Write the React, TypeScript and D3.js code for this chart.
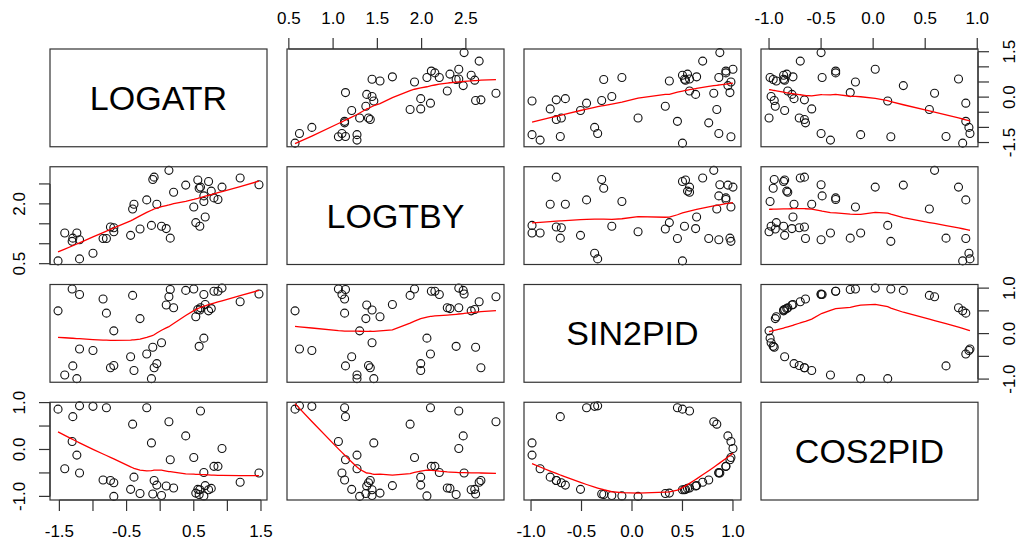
import { useEffect, useRef } from 'react';
import * as d3 from 'd3';

// variable names, in the order of the matrix
const varNames = ['LOGATR', 'LOGTBY', 'SIN2PID', 'COS2PID'];

const logatr = [
  -0.13, -1.24, -1.42, -0.39, -0.09, -0.05, -0.74, -0.69, -1.30, -0.44, -0.20,
  -1.00, -1.20, -0.11, 0.02, 0.58, 0.65, -0.69, -0.30, 0.53, -0.80, -1.52,
  0.72, 0.56, 0.76, 0.59, 0.60, 0.20, 0.67, 0.09, 1.19, 0.13, -0.41,
  -0.85, -1.20, 1.47, 0.65, 0.80, 0.86, 0.92, 0.50, 0.38, 0.15, -1.31,
];
const logtby = [
  1.46, 1.27, 1.27, 1.99, 2.67, 1.99, 1.42, 1.40, 1.14, 1.21, 2.10,
  0.76, 0.62, 2.61, 1.44, 2.39, 2.06, 1.30, 1.37, 1.53, 1.13, 0.57,
  2.56, 2.60, 2.32, 1.44, 2.42, 2.29, 1.67, 1.38, 2.65, 2.84, 1.87,
  1.13, 1.10, 2.48, 2.20, 2.15, 2.11, 2.42, 1.92, 2.47, 1.14, 1.06,
];
const sin2pid = [
  -0.99, -0.99, -0.91, -0.81, -0.75, -0.66, -0.75, -0.70, -0.71, -0.51, -0.45,
  -0.37, -0.34, -0.30, -0.20, -0.28, -0.10, 0.06, 0.33, 0.37, 0.45, 0.50,
  0.50, 0.53, 0.55, 0.52, 0.57, 0.57, 0.64, 0.63, 0.70, 0.81, 0.84,
  0.76, 0.86, 0.87, 0.86, 0.93, 0.93, 1.00, 0.98, 0.95, 0.97, 0.98,
];
const cos2pid = [
  0.14, -0.12, -0.41, -0.59, -0.66, -0.76, -0.66, -0.71, 0.70, -0.85, 0.89,
  0.92, 0.93, -0.95, -0.98, -0.96, -0.99, -1.00, -0.94, -0.93, 0.89, 0.86,
  -0.86, -0.85, -0.83, -0.86, 0.82, -0.82, -0.77, -0.78, -0.70, 0.59, 0.54,
  -0.65, -0.50, -0.50, -0.49, -0.36, -0.36, 0.02, -0.17, 0.29, -0.22, 0.17,
];

// tick positions per variable
const tickValues = [
  [-1.5, -1, -0.5, 0, 0.5, 1, 1.5],
  [0.5, 1, 1.5, 2, 2.5],
  [-1, -0.5, 0, 0.5, 1],
  [-1, -0.5, 0, 0.5, 1],
];
// labels that R kept after dropping overlaps
const xTickLabels = [
  ['-1.5', '-0.5', '0.5', '1.5'],
  ['0.5', '1.0', '1.5', '2.0', '2.5'],
  ['-1.0', '-0.5', '0.0', '0.5', '1.0'],
  ['-1.0', '-0.5', '0.0', '0.5', '1.0'],
];
const yTickLabels = [
  ['-1.5', '0.0', '1.5'],
  ['0.5', '2.0'],
  ['-1.0', '0.0', '1.0'],
  ['-1.0', '0.0', '1.0'],
];

const WIDTH = 1020;
const HEIGHT = 545;
const left = 50;
const top = 49;
const panelW = 217;
const panelH = 97.75;
const gap = 20;
const font = '"Liberation Sans", Arial, Helvetica, sans-serif';

// port of R's clowess (stats::lowess)
function lowess(xIn: number[], yIn: number[], f = 2 / 3, nsteps = 3): [number, number][] {
  const n = xIn.length;
  const o = d3.range(n).sort((a, b) => xIn[a] - xIn[b]);
  const x = o.map(i => xIn[i]);
  const y = o.map(i => yIn[i]);
  const range = x[n - 1] - x[0];
  const delta = 0.01 * range;
  const ns = Math.max(2, Math.min(n, Math.floor(f * n + 1e-7)));
  const ys = new Array(n).fill(0);
  let rw = new Array(n).fill(1);
  const res = new Array(n).fill(0);

  const lowest = (xs: number, nleft: number, nright: number, userw: boolean): number | null => {
    const h = Math.max(xs - x[nleft], x[nright] - xs);
    const h9 = 0.999 * h;
    const h1 = 0.001 * h;
    const w = new Array(n).fill(0);
    let a = 0;
    let j = nleft;
    while (j < n) {
      const r = Math.abs(x[j] - xs);
      if (r <= h9) {
        w[j] = r <= h1 ? 1 : Math.pow(1 - Math.pow(r / h, 3), 3);
        if (userw) w[j] *= rw[j];
        a += w[j];
      } else if (x[j] > xs) break;
      j++;
    }
    const nrt = j - 1;
    if (a <= 0) return null;
    for (let k = nleft; k <= nrt; k++) w[k] /= a;
    if (h > 0) {
      let m = 0;
      for (let k = nleft; k <= nrt; k++) m += w[k] * x[k];
      let b = xs - m;
      let c = 0;
      for (let k = nleft; k <= nrt; k++) c += w[k] * (x[k] - m) * (x[k] - m);
      if (Math.sqrt(c) > 0.001 * range) {
        b /= c;
        for (let k = nleft; k <= nrt; k++) w[k] *= b * (x[k] - m) + 1;
      }
    }
    let out = 0;
    for (let k = nleft; k <= nrt; k++) out += w[k] * y[k];
    return out;
  };

  for (let iter = 1; iter <= nsteps + 1; iter++) {
    let nleft = 0;
    let nright = ns - 1;
    let last = -1;
    let i = 0;
    for (;;) {
      if (nright < n - 1) {
        const d1 = x[i] - x[nleft];
        const d2 = x[nright + 1] - x[i];
        if (d1 > d2) {
          nleft++;
          nright++;
          continue;
        }
      }
      const v = lowest(x[i], nleft, nright, iter > 1);
      ys[i] = v === null ? y[i] : v;
      if (last < i - 1) {
        const denom = x[i] - x[last];
        for (let j = last + 1; j < i; j++) {
          const alpha = (x[j] - x[last]) / denom;
          ys[j] = alpha * ys[i] + (1 - alpha) * ys[last];
        }
      }
      last = i;
      const cut = x[last] + delta;
      for (i = last + 1; i < n; i++) {
        if (x[i] > cut) break;
        if (x[i] === x[last]) {
          ys[i] = ys[last];
          last = i;
        }
      }
      i = Math.max(last + 1, i - 1);
      if (last >= n - 1) break;
    }
    for (let k = 0; k < n; k++) res[k] = y[k] - ys[k];
    const sc = d3.sum(res, r => Math.abs(r)) / n;
    if (iter > nsteps) break;
    const sorted = res.map(r => Math.abs(r)).sort((a, b) => a - b);
    const m1 = Math.floor(n / 2);
    const cmad = n % 2 === 0 ? 3 * (sorted[m1] + sorted[n - m1 - 1]) : 6 * sorted[m1];
    if (cmad < 1e-7 * sc) break;
    const c9 = 0.999 * cmad;
    const c1 = 0.001 * cmad;
    rw = res.map(r0 => {
      const r = Math.abs(r0);
      if (r <= c1) return 1;
      if (r <= c9) return Math.pow(1 - Math.pow(r / cmad, 2), 2);
      return 0;
    });
  }
  return x.map((xv, k) => [xv, ys[k]] as [number, number]);
}

export default function App() {
  const svgRef = useRef<SVGSVGElement>(null);

  useEffect(() => {
    const svg = d3.select(svgRef.current);
    svg.selectAll('*').remove();

    const columns = [logatr, logtby, sin2pid, cos2pid];
    const nVar = columns.length;

    // R pads each range by 4% on both sides
    const domains = columns.map(col => {
      const [lo, hi] = d3.extent(col) as [number, number];
      const d = (hi - lo) * 0.04;
      return [lo - d, hi + d] as [number, number];
    });

    const xPos = (j: number) => left + j * (panelW + gap);
    const yPos = (i: number) => top + i * (panelH + gap);
    const xScale = (j: number) => d3.scaleLinear().domain(domains[j]).range([xPos(j), xPos(j) + panelW]);
    const yScale = (i: number) => d3.scaleLinear().domain(domains[i]).range([yPos(i) + panelH, yPos(i)]);

    for (let i = 0; i < nVar; i++) {
      for (let j = 0; j < nVar; j++) {
        const g = svg.append('g');
        if (i === j) {
          g.append('text')
            .attr('x', xPos(j) + panelW / 2)
            .attr('y', yPos(i) + panelH / 2)
            .attr('text-anchor', 'middle')
            .attr('dominant-baseline', 'central')
            .attr('font-family', font)
            .attr('font-size', 34)
            .attr('fill', '#000')
            .text(varNames[i]);
        } else {
          const x = xScale(j);
          const y = yScale(i);
          const xs = columns[j];
          const ysv = columns[i];

          g.selectAll('circle')
            .data(xs)
            .enter().append('circle')
            .attr('cx', d => x(d))
            .attr('cy', (d, k) => y(ysv[k]))
            .attr('r', 4)
            .attr('fill', 'none')
            .attr('stroke', '#111')
            .attr('stroke-width', 1.1);

          const smooth = lowess(xs, ysv);
          const line = d3.line<[number, number]>()
            .x(d => x(d[0]))
            .y(d => y(d[1]));
          g.append('path')
            .attr('d', line(smooth))
            .attr('fill', 'none')
            .attr('stroke', 'red')
            .attr('stroke-width', 1.3);
        }

        g.append('rect')
          .attr('x', xPos(j))
          .attr('y', yPos(i))
          .attr('width', panelW)
          .attr('height', panelH)
          .attr('fill', 'none')
          .attr('stroke', '#333')
          .attr('stroke-width', 1.2);
      }
    }

    const axes = svg.append('g')
      .attr('stroke', '#333')
      .attr('stroke-width', 1.2);
    const labels = svg.append('g')
      .attr('font-family', font)
      .attr('font-size', 17)
      .attr('fill', '#000');
    const tickLen = 11;
    const labelOff = 31;

    // horizontal axes: bottom on columns 1 and 3, top on columns 2 and 4
    for (let j = 0; j < nVar; j++) {
      const x = xScale(j);
      const ticks = tickValues[j];
      const onBottom = j % 2 === 0;
      const edge = onBottom ? yPos(nVar - 1) + panelH : yPos(0);
      const dir = onBottom ? 1 : -1;
      axes.append('line')
        .attr('x1', x(ticks[0])).attr('x2', x(ticks[ticks.length - 1]))
        .attr('y1', edge).attr('y2', edge);
      ticks.forEach(t => {
        axes.append('line')
          .attr('x1', x(t)).attr('x2', x(t))
          .attr('y1', edge).attr('y2', edge + dir * tickLen);
      });
      xTickLabels[j].forEach(lab => {
        labels.append('text')
          .attr('x', x(parseFloat(lab)))
          .attr('y', edge + dir * labelOff)
          .attr('text-anchor', 'middle')
          .attr('dominant-baseline', 'central')
          .text(lab);
      });
    }

    // vertical axes: right on rows 1 and 3, left on rows 2 and 4
    for (let i = 0; i < nVar; i++) {
      const y = yScale(i);
      const ticks = tickValues[i];
      const onRight = i % 2 === 0;
      const edge = onRight ? xPos(nVar - 1) + panelW : xPos(0);
      const dir = onRight ? 1 : -1;
      axes.append('line')
        .attr('y1', y(ticks[0])).attr('y2', y(ticks[ticks.length - 1]))
        .attr('x1', edge).attr('x2', edge);
      ticks.forEach(t => {
        axes.append('line')
          .attr('y1', y(t)).attr('y2', y(t))
          .attr('x1', edge).attr('x2', edge + dir * tickLen);
      });
      yTickLabels[i].forEach(lab => {
        const lx = edge + dir * labelOff;
        const ly = y(parseFloat(lab));
        labels.append('text')
          .attr('transform', `translate(${lx},${ly}) rotate(-90)`)
          .attr('text-anchor', 'middle')
          .attr('dominant-baseline', 'central')
          .text(lab);
      });
    }
  }, []);

  return (
    <svg
      ref={svgRef}
      width={WIDTH}
      height={HEIGHT}
      viewBox={`0 0 ${WIDTH} ${HEIGHT}`}
      style={{ position: 'absolute', left: 0, top: 0, background: '#fff', display: 'block' }}
    />
  );
}
